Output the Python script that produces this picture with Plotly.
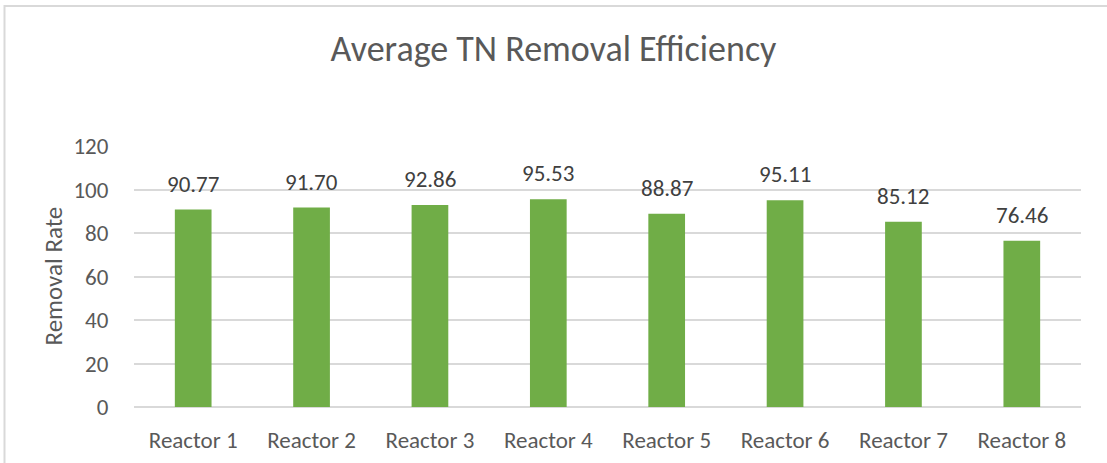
import plotly.graph_objects as go

categories = ["Reactor 1", "Reactor 2", "Reactor 3", "Reactor 4",
              "Reactor 5", "Reactor 6", "Reactor 7", "Reactor 8"]
values = [90.77, 91.70, 92.86, 95.53, 88.87, 95.11, 85.12, 76.46]
tick_vals = [0, 20, 40, 60, 80, 100, 120]

W, H = 1107, 463
L, R, T, B = 134, 26, 146, 56
FONT = "Carlito, Lato, sans-serif"
GREY = "#595959"

fig = go.Figure(go.Bar(
    x=categories, y=values, marker_color="#70AD47",
    marker_line_width=0, hoverinfo="skip"))

for c, v in zip(categories, values):
    fig.add_annotation(x=c, y=v, text=f"{v:.2f}", showarrow=False,
                       yanchor="bottom", yshift=10,
                       font=dict(family=FONT, size=23, color="#404040"))

pw, ph = W - L - R, H - T - B
fig.add_annotation(xref="paper", yref="paper", x=(53 - L) / pw, y=0.5,
                   xanchor="center", yanchor="middle",
                   text="Removal Rate", textangle=-90, showarrow=False,
                   font=dict(family=FONT, size=25, color=GREY))

fig.add_shape(type="rect", xref="paper", yref="paper",
              x0=(4.5 - L) / pw, x1=(1112 - L) / pw,
              y0=(H - B - 470) / ph, y1=(H - B - 6) / ph,
              line=dict(color="#d9d9d9", width=2), fillcolor="rgba(0,0,0,0)",
              layer="below")

fig.update_layout(
    width=W, height=H,
    margin=dict(l=L, r=R, t=T, b=B, autoexpand=False),
    paper_bgcolor="white", plot_bgcolor="white",
    bargap=0.69, showlegend=False,
    title=dict(text="Average TN Removal Efficiency", x=0.5, xanchor="center",
               y=1 - 48 / H, yanchor="middle",
               font=dict(family=FONT, size=36, color=GREY)),
    font=dict(family=FONT, color=GREY),
    xaxis=dict(showgrid=False, showline=False, zeroline=False,
               tickfont=dict(family=FONT, size=23, color=GREY),
               ticks="outside", ticklen=12, tickcolor="rgba(0,0,0,0)"),
    yaxis=dict(range=[0, 120], tickvals=tick_vals, showline=False,
               gridcolor="#d9d9d9", gridwidth=1.5,
               zeroline=True, zerolinecolor="#d9d9d9", zerolinewidth=1.5,
               tickfont=dict(family=FONT, size=23, color=GREY),
               ticks="outside", ticklen=20, tickcolor="rgba(0,0,0,0)"),
)

fig.write_html("out.html", config={"displayModeBar": False},
               post_script="document.body.style.margin='0';"
                           "document.body.style.overflow='hidden';")
